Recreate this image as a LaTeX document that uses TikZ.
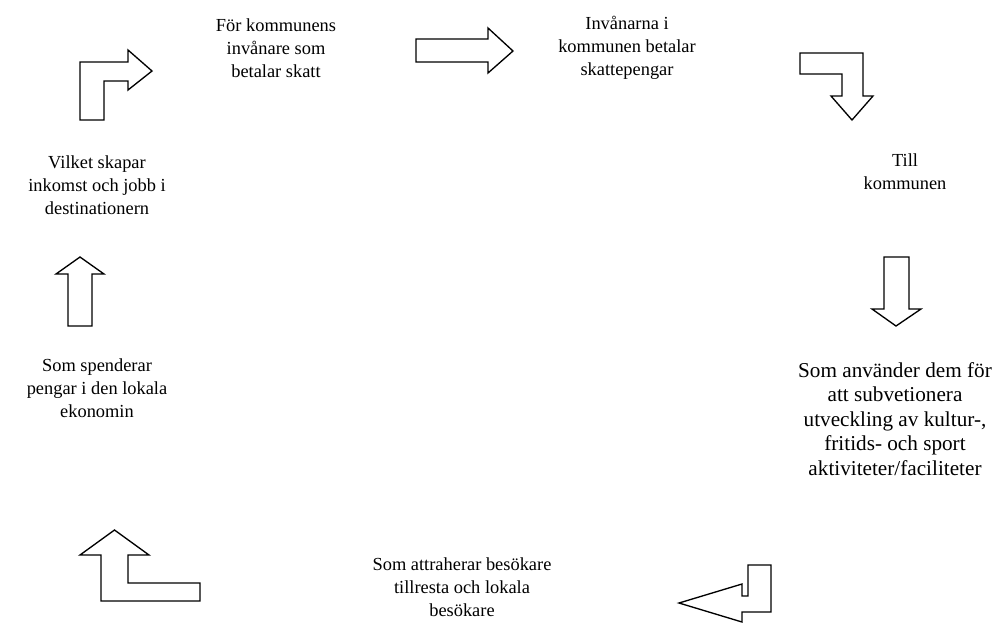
\documentclass[tikz,border=0pt]{standalone}
\usepackage{fontspec}
\setmainfont{Liberation Serif}
\usepackage{tikz}
\tikzset{steptext/.style={align=center,font=\fontsize{13.8}{17.3}\selectfont,inner sep=0pt},
bigtext/.style={steptext,font=\fontsize{15.9}{18.3}\selectfont},
blockarrow/.style={draw=black,line width=1pt,line join=miter,fill=white}}

\begin{document}
\begin{tikzpicture}[x=0.75pt,y=-0.75pt]
\useasboundingbox (0,0) rectangle (995,622);
\node[steptext](skatt) at (276,48) {För kommunens\\invånare som\\betalar skatt};
\node[steptext](betalar) at (627,48) {Invånarna i\\kommunen betalar\\skattepengar};
\node[steptext](kommun) at (905,172) {Till\\kommunen};
\node[bigtext](subv) at (895,419) {Som använder dem för\\att subvetionera\\utveckling av kultur-,\\fritids- och sport\\aktiviteter/faciliteter};
\node[steptext](besok) at (462,587) {Som attraherar besökare\\tillresta och lokala\\besökare};
\node[steptext](spend) at (97,388) {Som spenderar\\pengar i den lokala\\ekonomin};
\node[steptext](jobb) at (97,185) {Vilket skapar\\inkomst och jobb i\\destinationern};
% bent arrows and straight arrows
\draw[blockarrow](80,120)--(80,62)--(128,62)--(128,50)--(152,71)--(128,90)--(128,81)--(104,81)--(104,120)--cycle;
\draw[blockarrow](416,39)--(488,39)--(488,28)--(513,51)--(488,73)--(488,62)--(416,62)--cycle;
\draw[blockarrow](800,53)--(863,53)--(863,96)--(873,96)--(852,120)--(831,96)--(842,96)--(842,74)--(800,74)--cycle;
\draw[blockarrow](884,257)--(909,257)--(909,309)--(921,309)--(896,326)--(872,309)--(884,309)--cycle;
\draw[blockarrow](771,565)--(771,612)--(742,612)--(742,622)--(679,603)--(742,584)--(742,596)--(748,596)--(748,565)--cycle;
\draw[blockarrow](200,601)--(101,601)--(101,555)--(80,555)--(114.5,530)--(149,555)--(128,555)--(128,583)--(200,583)--cycle;
\draw[blockarrow](68,326)--(68,274)--(56,274)--(80,257)--(104,274)--(92,274)--(92,326)--cycle;
\end{tikzpicture}
\end{document}
